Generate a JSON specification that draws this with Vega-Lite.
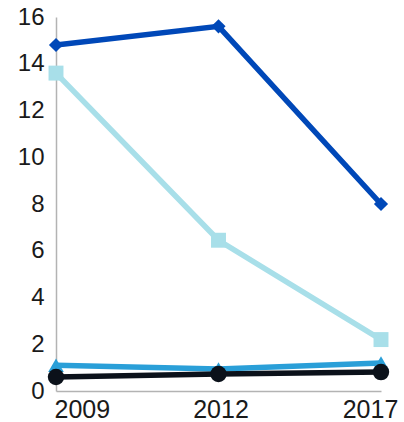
{
  "$schema": "https://vega.github.io/schema/vega-lite/v6.json",
  "autosize": "none",
  "width": 325,
  "height": 374,
  "padding": {"left": 56, "top": 17, "right": 23, "bottom": 31},
  "background": "white",
  "config": {"view": {"stroke": null}, "font": "Liberation Sans"},
  "data": {"values": [
    {"year": "2009", "series": "S1", "value": 14.8},
    {"year": "2012", "series": "S1", "value": 15.6},
    {"year": "2017", "series": "S1", "value": 8.0},
    {"year": "2009", "series": "S2", "value": 13.6},
    {"year": "2012", "series": "S2", "value": 6.45},
    {"year": "2017", "series": "S2", "value": 2.2},
    {"year": "2009", "series": "S3", "value": 1.1},
    {"year": "2012", "series": "S3", "value": 0.94},
    {"year": "2017", "series": "S3", "value": 1.2},
    {"year": "2009", "series": "S4", "value": 0.6},
    {"year": "2012", "series": "S4", "value": 0.73},
    {"year": "2017", "series": "S4", "value": 0.81}
  ]},
  "encoding": {
    "x": {"field": "year", "type": "ordinal", "scale": {"type": "point", "padding": 0},
      "axis": {"title": null, "labelAngle": 0, "ticks": false, "grid": false, "domainColor": "#b3b3b3", "domainWidth": 1.5,
        "labelFontSize": 25, "labelColor": "#1a1a1a", "labelPadding": 6,
        "labelAlign": {"expr": "datum.value == '2009' ? 'left' : 'center'"},
        "labelOffset": {"expr": "datum.value == '2017' ? -11 : (datum.value == '2012' ? 2 : -2)"}}},
    "y": {"field": "value", "type": "quantitative", "scale": {"domain": [0, 16], "nice": false},
      "axis": {"title": null, "ticks": false, "grid": false, "domainColor": "#b3b3b3", "domainWidth": 1.5,
        "values": [0, 2, 4, 6, 8, 10, 12, 14, 16], "labelFontSize": 24, "labelColor": "#1a1a1a", "labelPadding": 12}},
    "color": {"field": "series", "type": "nominal", "legend": null,
      "scale": {"domain": ["S1", "S2", "S3", "S4"], "range": ["#0048b8", "#a8dfe9", "#2a9fd8", "#0b111a"]}}
  },
  "layer": [
    {"mark": {"type": "line", "strokeWidth": 5.5}},
    {"mark": {"type": "point", "filled": true, "opacity": 1},
      "encoding": {
        "shape": {"field": "series", "type": "nominal", "legend": null,
          "scale": {"domain": ["S1", "S2", "S3", "S4"], "range": ["diamond", "square", "triangle-up", "circle"]}},
        "size": {"field": "series", "type": "nominal", "legend": null,
          "scale": {"domain": ["S1", "S2", "S3", "S4"], "range": [200, 270, 180, 240]}}
      }}
  ]
}
